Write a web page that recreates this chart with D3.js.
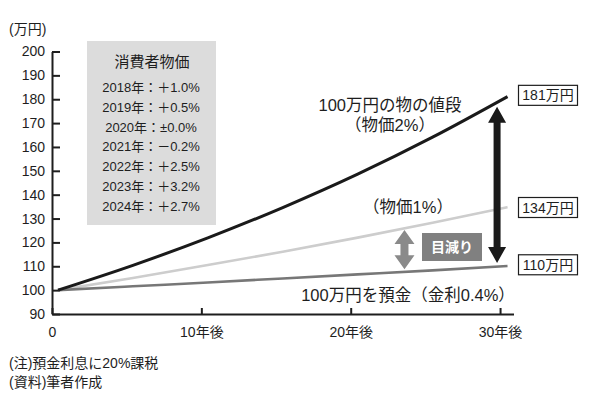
<!DOCTYPE html>
<html>
<head>
<meta charset="utf-8">
<script src="https://cdn.jsdelivr.net/npm/d3@7"></script>
<style>
  body { margin: 0; background: #fff; }
  svg { display: block; font-family: "Liberation Sans", "Noto Sans CJK JP", sans-serif; }
</style>
</head>
<body>
<svg id="vis" width="600" height="400"></svg>
<script>
'use strict';

// years after start, and value of 1,000,000 yen (in 万円)
var years = [0, 5, 10, 15, 20, 25, 30];
var price2 = [100, 110.4, 121.9, 134.6, 148.6, 164.1, 181.1];
var price1 = [100, 105.1, 110.5, 116.1, 122.0, 128.2, 134.8];
var deposit = [100, 101.6, 103.2, 104.9, 106.6, 108.3, 110.1];

var yTicks = [90, 100, 110, 120, 130, 140, 150, 160, 170, 180, 190, 200];
var xTicks = [0, 10, 20, 30];
var endLabels = ['181万円', '134万円', '110万円'];
var endValues = [181, 134, 110];

var cpiTitle = '消費者物価';
var cpiRows = ['2018年：＋1.0%', '2019年：＋0.5%', '2020年：±0.0%', '2021年：－0.2%',
    '2022年：＋2.5%', '2023年：＋3.2%', '2024年：＋2.7%'];

var notes = ['(注)預金利息に20%課税', '(資料)筆者作成'];

(function () {
    var svg = d3.select('#vis');
    var ink = '#1e1e1e';

    var x = d3.scaleLinear().domain([0, 30.9]).range([52, 513.5]);
    var y = d3.scaleLinear().domain([90, 200]).range([314, 51.5]);
    // lines are drawn slightly offset from the axis origin, as in the original
    var xl = d3.scaleLinear().domain([0, 30]).range([x(0.4), x(30.5)]);

    // unit label
    svg.append('text')
        .attr('x', 9).attr('y', 34)
        .attr('font-size', 14).attr('fill', ink)
        .text('(万円)');

    // y axis
    var gy = svg.append('g')
        .attr('transform', 'translate(' + x(0) + ',0)')
        .call(d3.axisLeft(y).tickValues(yTicks).tickSizeInner(-8).tickSizeOuter(0).tickPadding(7));
    gy.attr('font-family', null);
    gy.select('.domain').attr('stroke', ink).attr('stroke-width', 2);
    gy.selectAll('.tick line').attr('stroke', ink).attr('stroke-width', 2);
    gy.selectAll('.tick text').attr('font-size', 14).attr('fill', ink);

    // x axis
    var gx = svg.append('g')
        .attr('transform', 'translate(0,' + y(90) + ')')
        .call(d3.axisBottom(x).tickValues(xTicks).tickSizeInner(-6).tickSizeOuter(0).tickPadding(13)
            .tickFormat(function (d) { return d === 0 ? '0' : d + '年後'; }));
    gx.attr('font-family', null);
    gx.select('.domain').attr('stroke', ink).attr('stroke-width', 2);
    gx.selectAll('.tick line').attr('stroke', ink).attr('stroke-width', 2);
    gx.selectAll('.tick text').attr('font-size', 14).attr('fill', ink);

    // legend box
    svg.append('rect')
        .attr('x', 87).attr('y', 41).attr('width', 129).attr('height', 184)
        .attr('fill', '#dcdcdc');
    svg.append('text')
        .attr('x', 152).attr('y', 67).attr('text-anchor', 'middle')
        .attr('font-size', 15).attr('fill', ink)
        .text(cpiTitle);
    svg.selectAll('.cpi')
        .data(cpiRows)
        .enter().append('text')
        .attr('class', 'cpi')
        .attr('x', 151).attr('text-anchor', 'middle')
        .attr('y', function (d, i) { return 92 + i * 19.8; })
        .attr('font-size', 13).attr('fill', ink)
        .text(function (d) { return d; });

    // lines
    var line = d3.line()
        .x(function (d, i) { return xl(years[i]); })
        .y(function (d) { return y(d); })
        .curve(d3.curveMonotoneX);

    var series = [
        { values: price1, color: '#cdcdcd', width: 2.6 },
        { values: deposit, color: '#777777', width: 2.6 },
        { values: price2, color: '#1a1a1a', width: 3 }
    ];
    svg.selectAll('.series')
        .data(series)
        .enter().append('path')
        .attr('class', 'series')
        .attr('fill', 'none')
        .attr('stroke', function (d) { return d.color; })
        .attr('stroke-width', function (d) { return d.width; })
        .attr('d', function (d) { return line(d.values); });

    // double arrow helper
    function doubleArrow(cx, y1, y2, shaft, head, headLen, color) {
        var p = d3.path();
        p.moveTo(cx, y1);
        p.lineTo(cx + head / 2, y1 + headLen);
        p.lineTo(cx + shaft / 2, y1 + headLen);
        p.lineTo(cx + shaft / 2, y2 - headLen);
        p.lineTo(cx + head / 2, y2 - headLen);
        p.lineTo(cx, y2);
        p.lineTo(cx - head / 2, y2 - headLen);
        p.lineTo(cx - shaft / 2, y2 - headLen);
        p.lineTo(cx - shaft / 2, y1 + headLen);
        p.lineTo(cx - head / 2, y1 + headLen);
        p.closePath();
        svg.append('path').attr('d', p.toString()).attr('fill', color);
    }

    doubleArrow(x(29.8), y(176.8), y(111.4), 7, 18, 16, '#1a1a1a');
    doubleArrow(x(23.6), y(125.2), y(108.8), 8, 20, 14, '#8a8a8a');

    // 目減り label
    svg.append('rect')
        .attr('x', 422).attr('y', 233).attr('width', 60).attr('height', 28)
        .attr('fill', '#808080');
    svg.append('text')
        .attr('x', 452).attr('y', 252).attr('text-anchor', 'middle')
        .attr('font-size', 14).attr('font-weight', 'bold').attr('fill', '#fff')
        .text('目減り');

    // end value boxes
    var boxes = svg.selectAll('.endbox')
        .data(endValues)
        .enter().append('g')
        .attr('class', 'endbox')
        .attr('transform', function (d) { return 'translate(518,' + (y(d) - 12) + ')'; });
    boxes.append('rect')
        .attr('x', 0.5).attr('y', 0.5).attr('width', 59).attr('height', 20)
        .attr('fill', '#fff').attr('stroke', ink).attr('stroke-width', 1.2);
    boxes.append('text')
        .attr('x', 30).attr('y', 15.5).attr('text-anchor', 'middle')
        .attr('font-size', 14).attr('fill', ink)
        .text(function (d, i) { return endLabels[i]; });

    // series annotations
    var notesData = [
        { t: '100万円の物の値段', x: 390, y: 111 },
        { t: '（物価2%）', x: 390, y: 131 },
        { t: '（物価1%）', x: 408, y: 213 },
        { t: '100万円を預金（金利0.4%）', x: 408, y: 301 }
    ];
    svg.selectAll('.anno')
        .data(notesData)
        .enter().append('text')
        .attr('class', 'anno')
        .attr('x', function (d) { return d.x; })
        .attr('y', function (d) { return d.y; })
        .attr('text-anchor', 'middle')
        .attr('font-size', 16.5).attr('fill', ink)
        .text(function (d) { return d.t; });

    // footnotes
    svg.selectAll('.note')
        .data(notes)
        .enter().append('text')
        .attr('class', 'note')
        .attr('x', 9)
        .attr('y', function (d, i) { return 368 + i * 19; })
        .attr('font-size', 14).attr('fill', ink)
        .text(function (d) { return d; });
})();
</script>
</body>
</html>
